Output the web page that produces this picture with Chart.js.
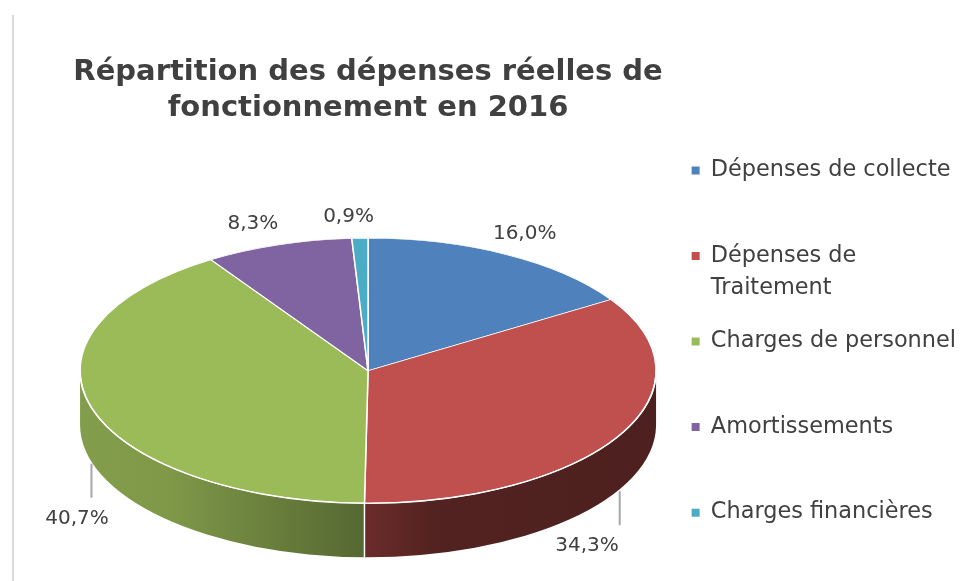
<!DOCTYPE html>
<html lang="fr">
<head>
    <meta charset="UTF-8">
    <title>Répartition des dépenses réelles de fonctionnement en 2016</title>
    <script src="https://cdn.jsdelivr.net/npm/chart.js"></script>
    <style>
        html, body { margin: 0; padding: 0; background: #fff; }
        #wrap { position: relative; width: 980px; height: 581px; }
        #frame { position: absolute; left: 12px; top: 15px; width: 2px; height: 566px; background: #d9d9d9; }
        #wrap canvas { position: relative; }
    </style>
</head>
<body>
<div id="wrap">
    <div id="frame"></div>
    <canvas id="chart"></canvas>
</div>
<script>
    const categories = ['Dépenses de collecte', 'Dépenses de Traitement', 'Charges de personnel', 'Amortissements', 'Charges financières'];
    const shares = [16.0, 34.3, 40.7, 8.3, 0.9];
    const colors = ['#4f81bd', '#c0504d', '#9bbb59', '#8064a2', '#4bacc6'];
    const titleLines = ['Répartition des dépenses réelles de', 'fonctionnement en 2016'];

    const TEXT = '#404040';
    const FONT = '"DejaVu Sans", sans-serif';
    const TILT = 0.46;      // vertical squash of the pie top
    const DEPTH = 54;       // thickness of the 3D edge
    const LEGEND_MAX = 262; // wrap legend text wider than this

    function shade(hex, f) {
        const n = parseInt(hex.slice(1), 16);
        const r = Math.round(((n >> 16) & 255) * f);
        const g = Math.round(((n >> 8) & 255) * f);
        const b = Math.round((n & 255) * f);
        return `rgb(${r},${g},${b})`;
    }

    function pctText(v) {
        return v.toFixed(1).replace('.', ',') + '%';
    }

    // draws the pie as a tilted disc: side walls first, then the squashed top
    const pie3d = {
        id: 'pie3d',
        beforeDatasetDraw(chart, args) {
            const ctx = chart.ctx;
            const arcs = args.meta.data;
            const cx = arcs[0].x, cy = arcs[0].y, R = arcs[0].outerRadius;
            const ry = R * TILT;

            arcs.forEach((arc, i) => {
                const a0 = Math.max(arc.startAngle, 0);
                const a1 = Math.min(arc.endAngle, Math.PI);
                if (a1 <= a0) return;
                const grad = ctx.createLinearGradient(cx - R, 0, cx + R, 0);
                [[0, 0.84], [0.15, 0.82], [0.5, 0.55], [0.62, 0.42], [1, 0.4]]
                    .forEach(([s, f]) => grad.addColorStop(s, shade(colors[i], f)));
                ctx.beginPath();
                ctx.ellipse(cx, cy, R, ry, 0, a0, a1);
                ctx.ellipse(cx, cy + DEPTH, R, ry, 0, a1, a0, true);
                ctx.closePath();
                ctx.fillStyle = grad;
                ctx.fill();
            });

            // white seams between the side walls
            ctx.save();
            ctx.strokeStyle = '#fff';
            ctx.lineWidth = 1.5;
            arcs.forEach(arc => {
                const a = arc.endAngle;
                if (a > 0 && a < Math.PI) {
                    const x = cx + R * Math.cos(a), y = cy + ry * Math.sin(a);
                    ctx.beginPath();
                    ctx.moveTo(x, y);
                    ctx.lineTo(x, y + DEPTH);
                    ctx.stroke();
                }
            });
            ctx.restore();

            ctx.save();
            ctx.translate(0, cy);
            ctx.scale(1, TILT);
            ctx.translate(0, -cy);
        },
        afterDatasetDraw(chart, args) {
            const ctx = chart.ctx;
            ctx.restore();
            const arc = args.meta.data[0];
            // light front rim
            ctx.save();
            ctx.strokeStyle = '#fff';
            ctx.lineWidth = 1.5;
            ctx.beginPath();
            ctx.ellipse(arc.x, arc.y, arc.outerRadius, arc.outerRadius * TILT, 0, 0, Math.PI);
            ctx.stroke();
            ctx.restore();
        },
        afterDatasetsDraw(chart) {
            const ctx = chart.ctx;
            const arcs = chart.getDatasetMeta(0).data;
            const cx = arcs[0].x, cy = arcs[0].y, R = arcs[0].outerRadius;
            const ry = R * TILT;
            ctx.save();
            ctx.font = `20px ${FONT}`;
            ctx.fillStyle = TEXT;
            ctx.textAlign = 'center';
            ctx.textBaseline = 'middle';
            arcs.forEach((arc, i) => {
                const m = (arc.startAngle + arc.endAngle) / 2;
                const c = Math.cos(m), s = Math.sin(m);
                const text = pctText(shares[i]);
                const tw = ctx.measureText(text).width;
                let x, y;
                if (s < 0.2) {
                    x = cx + (R + 14) * c + c * tw * 0.7 - 10;
                    y = cy + (ry + 12) * s - 10;
                } else {
                    // label below the wall with a leader line
                    const lx = cx + R * c;
                    const ly0 = cy + ry * s + DEPTH + 2;
                    const ly1 = ly0 + 34;
                    ctx.strokeStyle = '#a6a6a6';
                    ctx.lineWidth = 2;
                    ctx.beginPath();
                    ctx.moveTo(lx, ly0);
                    ctx.lineTo(lx, ly1);
                    ctx.stroke();
                    x = lx - 24 - 10 * c;
                    y = ly1 + 21;
                }
                ctx.fillText(text, x, y);
            });
            ctx.restore();
        }
    };

    new Chart(document.getElementById('chart'), {
        type: 'pie',
        data: {
            labels: categories,
            datasets: [{
                data: shares,
                backgroundColor: colors,
                borderColor: '#fff',
                borderWidth: 1.5,
                radius: 288,
                clip: false
            }]
        },
        options: {
            responsive: true,
            maintainAspectRatio: false,
            animation: false,
            layout: { padding: { left: 66, right: 14, top: 0, bottom: -6 } },
            plugins: {
                title: {
                    display: true,
                    text: titleLines,
                    fullSize: false,
                    color: TEXT,
                    font: { family: FONT, size: 29, weight: 'bold', lineHeight: 1.25 },
                    padding: { top: 54, bottom: 34 }
                },
                legend: {
                    position: 'right',
                    align: 'end',
                    labels: {
                        color: TEXT,
                        boxWidth: 8,
                        boxHeight: 8,
                        padding: 21.5,
                        font: { family: FONT, size: 22.4, lineHeight: 1.43 },
                        generateLabels(chart) {
                            const items = Chart.overrides.doughnut.plugins.legend.labels.generateLabels(chart);
                            const ctx = chart.ctx;
                            ctx.save();
                            ctx.font = `22.4px ${FONT}`;
                            items.forEach(item => {
                                const lines = [];
                                let line = '';
                                item.text.split(' ').forEach(w => {
                                    const test = line ? line + ' ' + w : w;
                                    if (line && ctx.measureText(test).width > LEGEND_MAX) {
                                        lines.push(line);
                                        line = w;
                                    } else {
                                        line = test;
                                    }
                                });
                                lines.push(line);
                                while (lines.length < 2) lines.push('');
                                item.text = lines;
                                item.lineWidth = 0;
                            });
                            ctx.restore();
                            return items;
                        }
                    }
                },
                tooltip: { enabled: false }
            }
        },
        plugins: [pie3d]
    });
</script>
</body>
</html>
